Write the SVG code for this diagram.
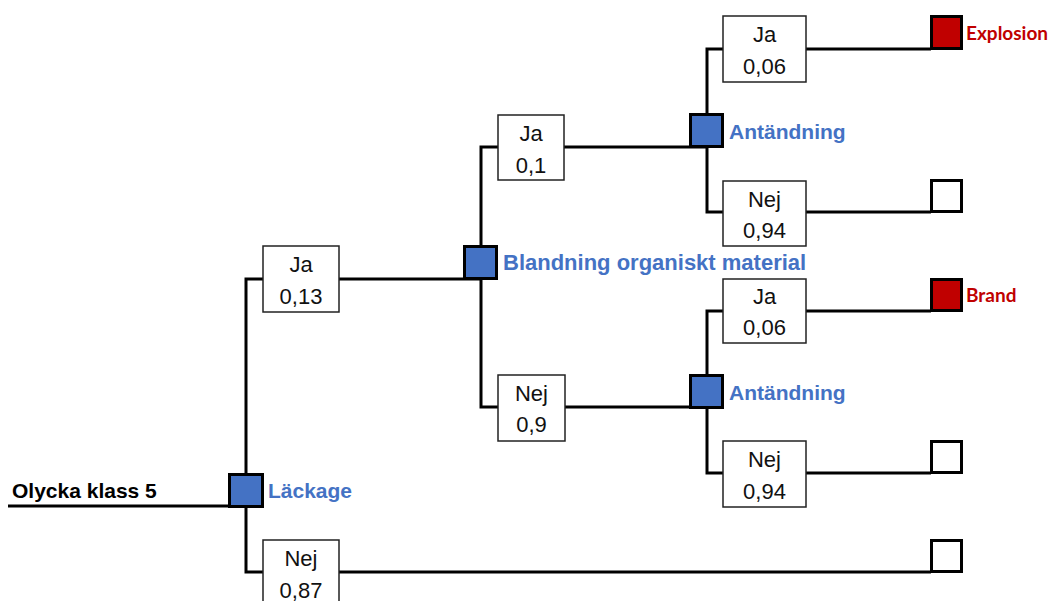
<svg xmlns="http://www.w3.org/2000/svg" width="1051" height="601" viewBox="0 0 1051 601">
<style>
.ln{stroke:#000;stroke-width:3;fill:none}
.box{fill:#fff;stroke:#222;stroke-width:1.5}
.bt{font-family:"Liberation Sans",Arial,sans-serif;font-size:22px;fill:#111;text-anchor:middle}
.chance{fill:#4472C4;stroke:#000;stroke-width:3}
.end{fill:#C00000;stroke:#000;stroke-width:3}
.term{fill:#fff;stroke:#000;stroke-width:3}
.lbl{font-family:"Liberation Sans",Arial,sans-serif;font-weight:bold;font-size:21px;fill:#4472C4}
.root{font-family:"Liberation Sans",Arial,sans-serif;font-weight:bold;font-size:21px;fill:#000}
.out{font-family:Lato,"Liberation Sans",sans-serif;font-weight:bold;font-size:19px;fill:#C00000}
</style>
<rect width="1051" height="601" fill="#fff"/>
<g id="connectors">
<path class="ln" d="M8,506H246"/>
<path class="ln" d="M263,279H246V572H263"/>
<path class="ln" d="M339,279H481"/>
<path class="ln" d="M498,147H481V407H498"/>
<path class="ln" d="M564,147H707"/>
<path class="ln" d="M723,49H707V212H723"/>
<path class="ln" d="M806,49H931"/>
<path class="ln" d="M806,212H931"/>
<path class="ln" d="M565,407H707"/>
<path class="ln" d="M723,311H707V473H723"/>
<path class="ln" d="M806,311H931"/>
<path class="ln" d="M806,473H931"/>
<path class="ln" d="M339,572H931"/>
</g>
<g id="root"><text class="root" x="12" y="498">Olycka klass 5</text></g>
<g id="lackage"><rect class="chance" x="229.5" y="474.5" width="33" height="32"/><text class="lbl" x="268" y="498">Läckage</text></g>
<g id="ja013"><rect class="box" x="263" y="246" width="76" height="66"/><text class="bt" x="301" y="272">Ja</text><text class="bt" x="301" y="304">0,13</text></g>
<g id="nej087"><rect class="box" x="263" y="540" width="76" height="66"/><text class="bt" x="301" y="566">Nej</text><text class="bt" x="301" y="598">0,87</text></g>
<g id="blandning"><rect class="chance" x="464.5" y="246.5" width="32" height="32"/><text class="lbl" x="503" y="270" style="font-size:22px">Blandning organiskt material</text></g>
<g id="ja01"><rect class="box" x="498" y="115" width="66" height="65"/><text class="bt" x="531" y="141">Ja</text><text class="bt" x="531" y="173">0,1</text></g>
<g id="nej09"><rect class="box" x="498" y="375" width="67" height="66"/><text class="bt" x="531.5" y="401">Nej</text><text class="bt" x="531.5" y="432">0,9</text></g>
<g id="antandning1"><rect class="chance" x="690.5" y="114.5" width="32" height="32"/><text class="lbl" x="729" y="139">Antändning</text></g>
<g id="antandning2"><rect class="chance" x="690.5" y="375.5" width="32" height="32"/><text class="lbl" x="729" y="400">Antändning</text></g>
<g id="ja006a"><rect class="box" x="723" y="16" width="83" height="66"/><text class="bt" x="764.5" y="42">Ja</text><text class="bt" x="764.5" y="74">0,06</text></g>
<g id="nej094a"><rect class="box" x="723" y="181" width="83" height="65"/><text class="bt" x="764.5" y="207">Nej</text><text class="bt" x="764.5" y="238">0,94</text></g>
<g id="ja006b"><rect class="box" x="723" y="279" width="83" height="64"/><text class="bt" x="764.5" y="304">Ja</text><text class="bt" x="764.5" y="335">0,06</text></g>
<g id="nej094b"><rect class="box" x="723" y="441" width="83" height="66"/><text class="bt" x="764.5" y="467">Nej</text><text class="bt" x="764.5" y="499">0,94</text></g>
<g id="explosion"><rect class="end" x="931.5" y="16.5" width="30" height="32"/><text class="out" x="966" y="40">Explosion</text></g>
<g id="end2"><rect class="term" x="931.5" y="180.5" width="30" height="31"/></g>
<g id="brand"><rect class="end" x="931.5" y="279.5" width="30" height="31"/><text class="out" x="966" y="302">Brand</text></g>
<g id="end4"><rect class="term" x="931.5" y="441.5" width="30" height="31"/></g>
<g id="end5"><rect class="term" x="931.5" y="540.5" width="30" height="31"/></g>
</svg>
